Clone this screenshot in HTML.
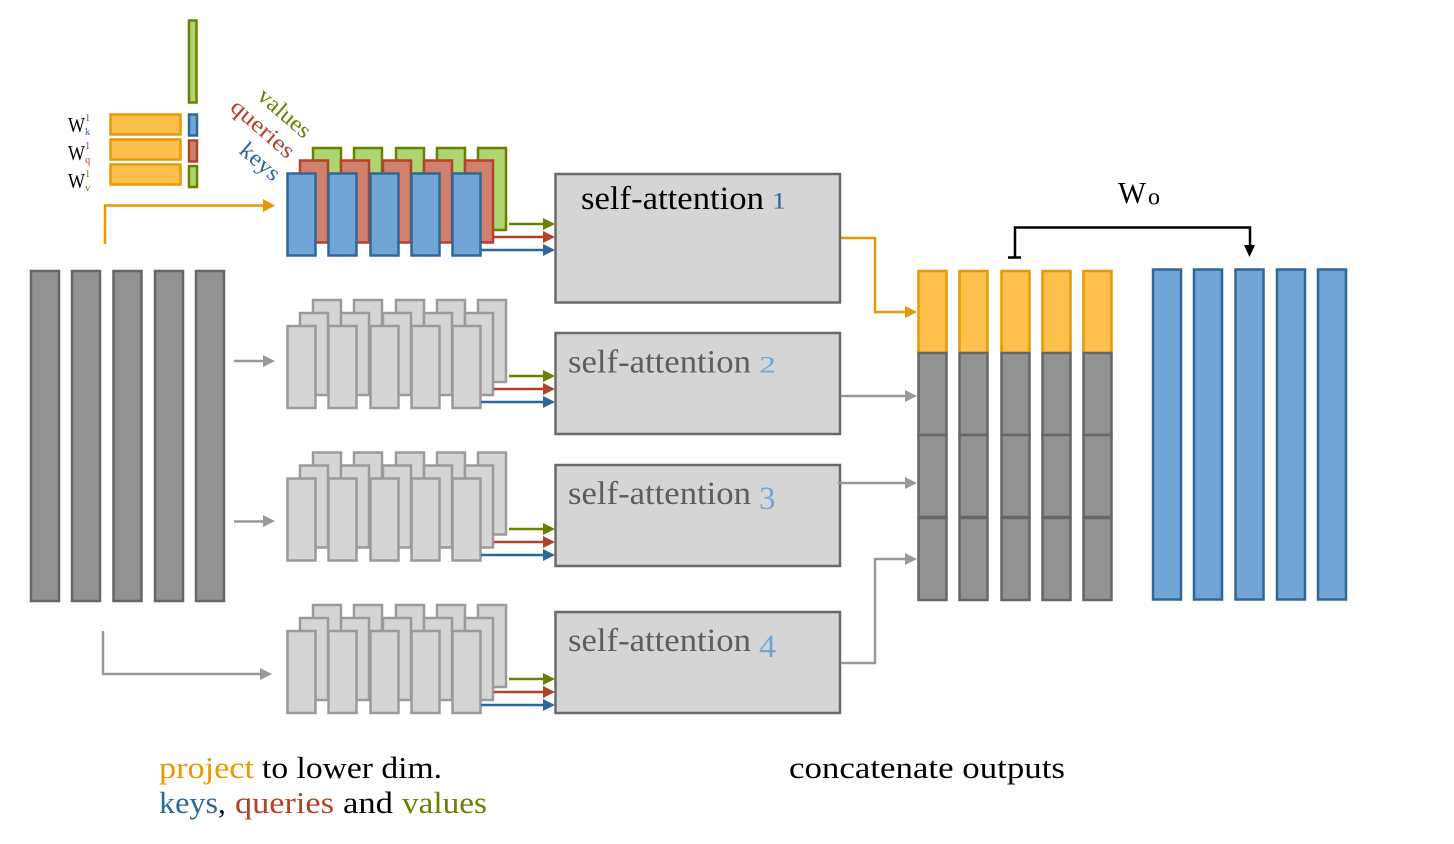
<!DOCTYPE html>
<html><head><meta charset="utf-8"><title>Multi-head self-attention</title>
<style>html,body{margin:0;padding:0;background:#fff}svg{display:block}text{font-family:"Liberation Serif",serif}</style></head>
<body>
<svg xmlns="http://www.w3.org/2000/svg" width="1454" height="844" viewBox="0 0 1454 844">
<defs>
<g id="row5"><rect x="0" width="28" height="82"/><rect x="41" width="28" height="82"/><rect x="83" width="28" height="82"/><rect x="124" width="28" height="82"/><rect x="165" width="28" height="82"/></g>
<g id="grayStack" fill="#d5d5d5" stroke="#9a9a9a" stroke-width="2.5">
<use href="#row5" x="25.500" y="-26"/><use href="#row5" x="12.5" y="-13"/><use href="#row5"/>
</g>
<g id="cArrows" stroke-width="2.5" fill="none">
<path d="M224 0H258" stroke="#6a8000"/><path d="M258 -6L270 0L258 6Z" fill="#6a8000"/>
<path d="M209 13H258" stroke="#b2432b"/><path d="M258 7L270 13L258 19Z" fill="#b2432b"/>
<path d="M196 26H258" stroke="#2f6798"/><path d="M258 20L270 26L258 32Z" fill="#2f6798"/>
</g>
</defs>
<rect width="1454" height="844" fill="#fff"/>

<g fill="#929292" stroke="#666" stroke-width="2.5">
<rect x="31" y="271" width="28" height="330"/><rect x="72" y="271" width="28" height="330"/><rect x="113.500" y="271" width="28" height="330"/><rect x="155" y="271" width="28" height="330"/><rect x="196" y="271" width="28" height="330"/>
</g>

<!-- W matrices -->
<g fill="#ffc04d" stroke="#e79a00" stroke-width="2.5">
<rect x="110.500" y="114.500" width="70" height="20"/><rect x="110.500" y="139.500" width="70" height="20"/><rect x="110.500" y="164.500" width="70" height="20"/>
</g>
<rect x="189" y="20.500" width="7.500" height="82" fill="#aed56f" stroke="#6a8000" stroke-width="2.500"/>
<rect x="189" y="114.500" width="8" height="21" fill="#71a5d6" stroke="#2f6798" stroke-width="2.500"/>
<rect x="189" y="140.500" width="8" height="21" fill="#d0806c" stroke="#b2432b" stroke-width="2.500"/>
<rect x="189" y="166" width="8" height="21" fill="#aed56f" stroke="#6a8000" stroke-width="2.500"/>
<g font-size="21" fill="#000">
<text x="68" y="132" textLength="17" lengthAdjust="spacingAndGlyphs">W</text>
<text x="68" y="160" textLength="17" lengthAdjust="spacingAndGlyphs">W</text>
<text x="68" y="188" textLength="17" lengthAdjust="spacingAndGlyphs">W</text>
</g>
<g font-size="10.500">
<text x="85" y="121" fill="#2f6798">1</text><text x="85" y="135" fill="#2f6798">k</text>
<text x="85" y="149" fill="#b2432b">1</text><text x="85" y="163" fill="#b2432b">q</text>
<text x="85" y="177" fill="#6a8000">1</text><text x="85" y="191" fill="#6a8000">v</text>
</g>

<!-- rotated labels -->
<g font-size="23">
<text transform="translate(256,98) rotate(41)" fill="#6a8000" textLength="63" lengthAdjust="spacingAndGlyphs">values</text>
<text transform="translate(229,109) rotate(41)" fill="#b2432b" textLength="77" lengthAdjust="spacingAndGlyphs">queries</text>
<text transform="translate(238,152) rotate(41)" fill="#2f6798" textLength="46" lengthAdjust="spacingAndGlyphs">keys</text>
</g>

<!-- first stack -->
<use href="#row5" x="313" y="148" fill="#aed56f" stroke="#6a8000" stroke-width="2.500"/>
<use href="#row5" x="300" y="160.500" fill="#d0806c" stroke="#b2432b" stroke-width="2.500"/>
<use href="#row5" x="287.500" y="173.500" fill="#71a5d6" stroke="#2f6798" stroke-width="2.500"/>
<!-- gray stacks -->
<use href="#grayStack" x="287.500" y="326"/>
<use href="#grayStack" x="287.500" y="478.500"/>
<use href="#grayStack" x="287.500" y="631"/>

<!-- coloured arrows -->
<use href="#cArrows" x="285" y="224"/>
<use href="#cArrows" x="285" y="376"/>
<use href="#cArrows" x="285" y="529"/>
<use href="#cArrows" x="285" y="679"/>

<!-- boxes -->
<g fill="#d5d5d5" stroke="#6a6a6a" stroke-width="2.500">
<rect x="555.500" y="174" width="284.500" height="128.500"/>
<rect x="555.500" y="333" width="284.500" height="101"/>
<rect x="555.500" y="465" width="284.500" height="101"/>
<rect x="555.500" y="612" width="284.500" height="101"/>
</g>
<g font-size="33">
<text x="581" y="209" fill="#000" textLength="183" lengthAdjust="spacingAndGlyphs">self-attention</text>
<text x="568" y="372.500" fill="#5d5d5d" textLength="183" lengthAdjust="spacingAndGlyphs">self-attention</text>
<text x="568" y="504" fill="#5d5d5d" textLength="183" lengthAdjust="spacingAndGlyphs">self-attention</text>
<text x="568" y="651" fill="#5d5d5d" textLength="183" lengthAdjust="spacingAndGlyphs">self-attention</text>
</g>
<text x="772" y="208.500" font-size="23" fill="#2f6798" textLength="14" lengthAdjust="spacingAndGlyphs">1</text>
<text x="759" y="372.500" font-size="23" fill="#71a5d6" textLength="17" lengthAdjust="spacingAndGlyphs">2</text>
<text x="759" y="509" font-size="33" fill="#71a5d6" textLength="16.500" lengthAdjust="spacingAndGlyphs">3</text>
<text x="759" y="657" font-size="33" fill="#71a5d6" textLength="17" lengthAdjust="spacingAndGlyphs">4</text>

<!-- concat columns -->
<use href="#row5" x="918.500" y="271" fill="#ffc04d" stroke="#e79a00" stroke-width="2.500"/>
<g fill="#929292" stroke="#666" stroke-width="2.500">
<use href="#row5" x="918.500" y="353"/>
<use href="#row5" x="918.500" y="435"/>
<use href="#row5" x="918.500" y="518"/>
</g>
<g fill="#71a5d6" stroke="#2f6798" stroke-width="2.500">
<rect x="1153" y="269.500" width="28" height="330"/><rect x="1194" y="269.500" width="28" height="330"/><rect x="1235.500" y="269.500" width="28" height="330"/><rect x="1277" y="269.500" width="28" height="330"/><rect x="1318" y="269.500" width="28" height="330"/>
</g>

<!-- connectors -->
<g fill="none" stroke-width="2.500">
<path d="M105 244V205.500H264" stroke="#e79a00"/>
<path d="M841 238H875V312H906" stroke="#e79a00"/>
<path d="M234 361H264M234 521.500H264M103 631V674H261" stroke="#999"/>
<path d="M841 396H906M838 483H906M841 663H875V559H906" stroke="#999"/>
<path d="M1015 257V227.500H1250V247M1008 257.500H1021" stroke="#000"/>
</g>
<path d="M263 199L275 205.500L263 212Z" fill="#e79a00"/>
<path d="M905 306L917 312L905 318Z" fill="#e79a00"/>
<g fill="#999">
<path d="M263 355L275 361L263 367Z"/><path d="M263 515L275 521L263 527Z"/><path d="M260 668L272 674L260 680Z"/>
<path d="M905 390L917 396L905 402Z"/><path d="M905 477L917 483L905 489Z"/><path d="M905 553L917 559L905 565Z"/>
</g>
<path d="M1244 245H1255L1249.500 257Z" fill="#000"/>

<text x="1118" y="203" font-size="31" fill="#000" textLength="28" lengthAdjust="spacingAndGlyphs">W</text>
<text x="1148" y="204.500" font-size="24" fill="#000">o</text>

<!-- captions -->
<g font-size="31">
<text x="159" y="778" fill="#e79a00" textLength="95" lengthAdjust="spacingAndGlyphs">project</text>
<text x="262" y="778" fill="#000" textLength="180" lengthAdjust="spacingAndGlyphs">to lower dim.</text>
<text x="159" y="813" fill="#2f6798" textLength="59" lengthAdjust="spacingAndGlyphs">keys</text>
<text x="218" y="813" fill="#000">,</text>
<text x="235" y="813" fill="#b2432b" textLength="99" lengthAdjust="spacingAndGlyphs">queries</text>
<text x="343" y="813" fill="#000" textLength="50" lengthAdjust="spacingAndGlyphs">and</text>
<text x="402" y="813" fill="#6a8000" textLength="85" lengthAdjust="spacingAndGlyphs">values</text>
<text x="789" y="778" fill="#000" textLength="276" lengthAdjust="spacingAndGlyphs">concatenate outputs</text>
</g>
</svg>
</body></html>
